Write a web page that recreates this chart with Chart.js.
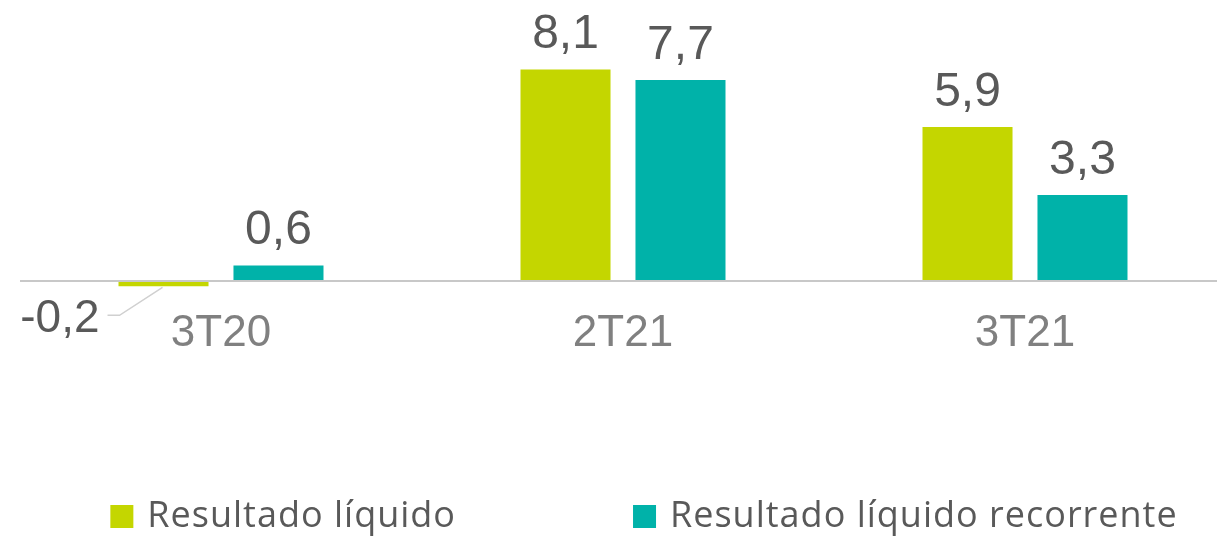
<!DOCTYPE html>
<html>
<head>
<meta charset="utf-8">
<script src="https://cdn.jsdelivr.net/npm/chart.js@4.4.1/dist/chart.umd.min.js"></script>
<style>
    html, body { margin: 0; padding: 0; background: #fff; overflow: hidden; }
    #wrap { position: relative; width: 1226px; height: 537px; }
</style>
</head>
<body>
<div id="wrap"><canvas id="chart"></canvas></div>
<script>
// data
const categories = ['3T20', '2T21', '3T21'];
const resultadoLiquido = [-0.2, 8.1, 5.9];
const resultadoRecorrente = [0.6, 7.7, 3.3];
const seriesNames = ['Resultado líquido', 'Resultado líquido recorrente'];
const seriesColors = ['#c4d600', '#00b2a9'];

const numFont = '"Liberation Sans Narrow", "Arial Narrow", sans-serif';
const legendFontFamily = '"Open Sans", sans-serif';

function fmt(v) {
    return v.toFixed(1).replace('.', ',');
}

// value labels above bars (negative one goes off to the left with a leader line)
const valueLabels = {
    id: 'valueLabels',
    afterDatasetsDraw(chart) {
        const ctx = chart.ctx;
        ctx.save();
        ctx.fillStyle = '#595959';
        chart.data.datasets.forEach((ds, i) => {
            chart.getDatasetMeta(i).data.forEach((bar, j) => {
                const v = ds.data[j];
                const txt = fmt(v);
                if (v >= 0) {
                    ctx.font = '48px ' + numFont;
                    ctx.textAlign = 'center';
                    ctx.textBaseline = 'alphabetic';
                    ctx.fillText(txt, bar.x, bar.y - 21);
                } else {
                    const x0 = bar.x, y0 = bar.y + 1;
                    ctx.strokeStyle = '#d0d0d0';
                    ctx.lineWidth = 1.5;
                    ctx.beginPath();
                    ctx.moveTo(x0 - 1, y0);
                    ctx.lineTo(x0 - 44, y0 + 28);
                    ctx.lineTo(x0 - 56, y0 + 28);
                    ctx.stroke();
                    ctx.font = '46px ' + numFont;
                    ctx.textAlign = 'right';
                    ctx.textBaseline = 'alphabetic';
                    ctx.fillText(txt, x0 - 64, y0 + 45);
                }
            });
        });
        ctx.restore();
    }
};

// legend drawn along the bottom
const bottomLegend = {
    id: 'bottomLegend',
    afterDraw(chart) {
        const ctx = chart.ctx;
        const a = chart.chartArea;
        ctx.save();
        ctx.font = '36px ' + legendFontFamily;
        ctx.letterSpacing = '1px';
        const box = 23, textGap = 14, itemGap = 177;
        const widths = seriesNames.map(n => box + textGap + ctx.measureText(n).width);
        const total = widths.reduce((s, w) => s + w, 0) + itemGap * (widths.length - 1);
        let x = (a.left + a.right) / 2 + 21 - total / 2;
        const baseline = chart.height - 10;
        seriesNames.forEach((name, i) => {
            ctx.fillStyle = seriesColors[i];
            ctx.fillRect(x, baseline - 22, box, box);
            ctx.fillStyle = '#595959';
            ctx.textAlign = 'left';
            ctx.textBaseline = 'alphabetic';
            ctx.fillText(name, x + box + textGap, baseline);
            x += widths[i] + itemGap;
        });
        ctx.restore();
    }
};

new Chart(document.getElementById('chart'), {
    type: 'bar',
    data: {
        labels: categories,
        datasets: [
            { label: seriesNames[0], data: resultadoLiquido, backgroundColor: seriesColors[0], borderWidth: 0 },
            { label: seriesNames[1], data: resultadoRecorrente, backgroundColor: seriesColors[1], borderWidth: 0 }
        ]
    },
    options: {
        responsive: true,
        maintainAspectRatio: false,
        animation: false,
        categoryPercentage: 0.572,
        barPercentage: 0.783,
        layout: { padding: { left: 20, right: 0, top: 0, bottom: 176 } },
        plugins: {
            legend: { display: false },
            tooltip: { enabled: false }
        },
        scales: {
            x: {
                grid: { display: false, drawTicks: false },
                border: { display: false },
                ticks: {
                    color: '#808080',
                    padding: 1,
                    font: { family: numFont, size: 44 }
                }
            },
            y: {
                min: -0.96,
                max: 10.76,
                border: { display: false },
                afterBuildTicks: axis => { axis.ticks = [{ value: 0 }]; },
                grid: {
                    drawTicks: false,
                    color: c => c.tick && c.tick.value === 0 ? '#c8c8c8' : 'transparent',
                    lineWidth: 2
                },
                ticks: { display: false }
            }
        }
    },
    plugins: [valueLabels, bottomLegend]
});
</script>
</body>
</html>
